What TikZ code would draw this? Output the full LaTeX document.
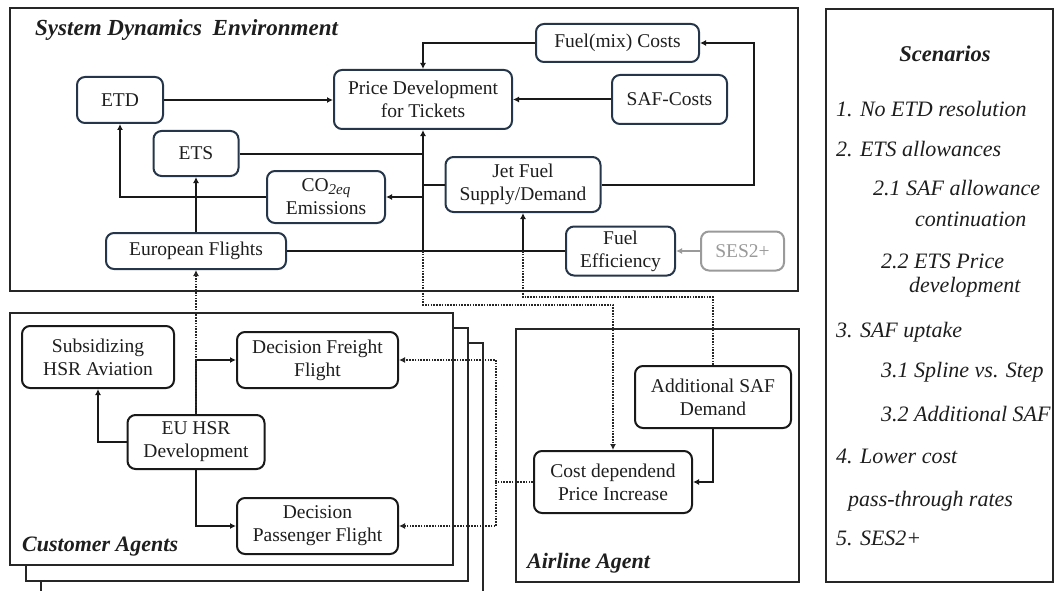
\documentclass[tikz,border=0pt]{standalone}
\usepackage{fontspec}
\setmainfont{Liberation Serif}
\usetikzlibrary{arrows.meta}
\definecolor{txt}{HTML}{1E1E1E}
\definecolor{boxblue}{HTML}{26364A}
\definecolor{sesgray}{HTML}{9A9A9A}
\begin{document}
\begin{tikzpicture}[x=1pt,y=-1pt,
  box/.style={draw=boxblue, line width=2pt, rounded corners=8pt, fill=white, text=txt, align=center, inner sep=0pt, font=\fontsize{19.5}{23}\selectfont},
  bbox/.style={box, draw=black!90},
  frame/.style={draw=black!85, line width=2pt},
  conn/.style={line width=2pt, draw=black!90},
  arr/.style={conn, -{Latex[length=6pt,width=6pt]}},
  dots/.style={line width=2pt, draw=black!85, dash pattern=on 1.6pt off 1.2pt},
  darr/.style={dots, -{Latex[length=6pt,width=6pt]}},
  lbl/.style={font=\fontsize{22}{26}\selectfont\bfseries\itshape, text=txt, inner sep=0pt},
  scen/.style={font=\fontsize{22}{26}\selectfont\itshape, text=txt, inner sep=0pt, anchor=base west},
]
\useasboundingbox (0,0) rectangle (1054,591);

% frames
\draw[frame] (10,8) rectangle (798,291);
\draw[frame] (41,595) |- (483,343) -- (483,595);
\draw[frame, fill=white] (26,328) rectangle (468,581);
\draw[frame, fill=white] (10,313) rectangle (453,565);
\draw[frame] (516,329) rectangle (799,582);
\draw[frame] (826,9) rectangle (1053,582);

% frame labels
\node[lbl, font=\fontsize{23}{26}\selectfont\bfseries\itshape, anchor=west] (tsd) at (35,30) {System Dynamics\hspace{5pt} Environment};
\node[lbl, anchor=west] (tca) at (22,547) {Customer Agents};
\node[lbl, anchor=west] (taa) at (527,563) {Airline Agent};

% system dynamics nodes
\node[box, minimum width=86pt, minimum height=46pt] (etd) at (120,100) {ETD};
\node[box, minimum width=85pt, minimum height=45pt] (ets) at (196,153.5) {ETS};
\node[box, minimum width=118pt, minimum height=52pt] (co2) at (326,197) {CO\raisebox{-0.35ex}{\fontsize{15}{15}\selectfont\textit{2eq}}\\Emissions};
\node[box, minimum width=180pt, minimum height=36pt] (eur) at (196,251) {European Flights};
\node[box, minimum width=178pt, minimum height=59pt] (price) at (423,99.5) {Price Development\\for Tickets};
\node[box, minimum width=163pt, minimum height=38pt] (fuelmix) at (617.5,43) {Fuel(mix) Costs};
\node[box, minimum width=115pt, minimum height=49pt] (saf) at (669.5,99.5) {SAF-Costs};
\node[box, minimum width=155pt, minimum height=55pt] (jet) at (523,184.5) {Jet Fuel\\Supply/Demand};
\node[box, minimum width=109pt, minimum height=49pt] (eff) at (620.5,251) {Fuel\\Efficiency};
\node[box, draw=sesgray, text=sesgray, minimum width=83pt, minimum height=39pt] (ses) at (742.5,251) {SES2+};

% customer agents nodes
\node[bbox, minimum width=152pt, minimum height=62pt] (subs) at (98,357) {Subsidizing\\HSR Aviation};
\node[bbox, minimum width=161pt, minimum height=56pt] (freight) at (317.5,360) {Decision Freight\\Flight};
\node[bbox, minimum width=137pt, minimum height=54pt] (hsr) at (196,442) {EU HSR\\Development};
\node[bbox, minimum width=161pt, minimum height=56pt] (pass) at (317.5,526) {Decision\\Passenger Flight};

% airline agent nodes
\node[bbox, minimum width=156pt, minimum height=62pt] (addsaf) at (713,397) {Additional SAF\\Demand};
\node[bbox, minimum width=158pt, minimum height=62pt] (cost) at (613,482) {Cost dependend\\Price Increase};

% helper coordinates
\coordinate (t1) at (423,251);
\coordinate (t2) at (523,251);
\coordinate (fr) at (754,43);
\coordinate (d1) at (423,305);
\coordinate (d2) at (523,297);
\coordinate (d3) at (496,482);

% system dynamics connectors
\draw[arr] (etd.east) -- (etd.east -| price.west);
\draw[arr] (saf.west) -- (saf.west -| price.east);
\draw[arr] (fuelmix.west) -| (price.north);
\draw[arr] (jet.east) -| (fr) -- (fuelmix.east);
\draw[conn] (ets.east) -- (ets.east -| t1);
\draw[conn] (jet.west) -- (jet.west -| t1);
\draw[arr] (t1) -- (price.south);
\draw[arr] (t1 |- co2.east) -- (co2.east);
\draw[arr] (co2.west) -| (etd.south);
\draw[arr] (eur.north) -- (ets.south);
\draw[conn] (eur.east) -- (eff.west);
\draw[arr] (t2) -- (jet.south);
\draw[arr, draw=sesgray] (ses.west) -- (eff.east);

% customer connectors
\draw[arr] (hsr.west) -| (subs.south);
\draw[arr] (hsr.north) |- (freight.west);
\draw[arr] (hsr.south) |- (pass.west);

% airline connectors
\draw[arr] (addsaf.south) |- (cost.east);

% dotted connectors
\draw[darr] (hsr.north) -- (eur.south);
\draw[darr] (t1) -- (d1) -| (cost.north);
\draw[dots] (addsaf.north) |- (d2) -- (t2);
\draw[dots] (cost.west) -- (d3);
\draw[darr] (d3) |- (freight.east);
\draw[darr] (d3) |- (pass.east);

% scenarios
\node[lbl, font=\fontsize{22.5}{26}\selectfont\bfseries\itshape, anchor=base] (tsc) at (945,62) {Scenarios};
\node[scen] (s1) at (836,117) {1. No ETD resolution};
\node[scen] (s2) at (836,157) {2. ETS allowances};
\node[scen] (s21) at (873,195) {2.1 SAF allowance};
\node[scen] (s21b) at (915,226) {continuation};
\node[scen] (s22) at (881,268) {2.2 ETS Price};
\node[scen] (s22b) at (909,292) {development};
\node[scen] (s3) at (836,337) {3. SAF uptake};
\node[scen] (s31) at (881,377) {3.1 Spline vs. Step};
\node[scen] (s32) at (881,421) {3.2 Additional SAF};
\node[scen] (s4) at (836,463) {4. Lower cost};
\node[scen] (s4b) at (848,506) {pass-through rates};
\node[scen] (s5) at (836,545) {5. SES2+};
\end{tikzpicture}
\end{document}
